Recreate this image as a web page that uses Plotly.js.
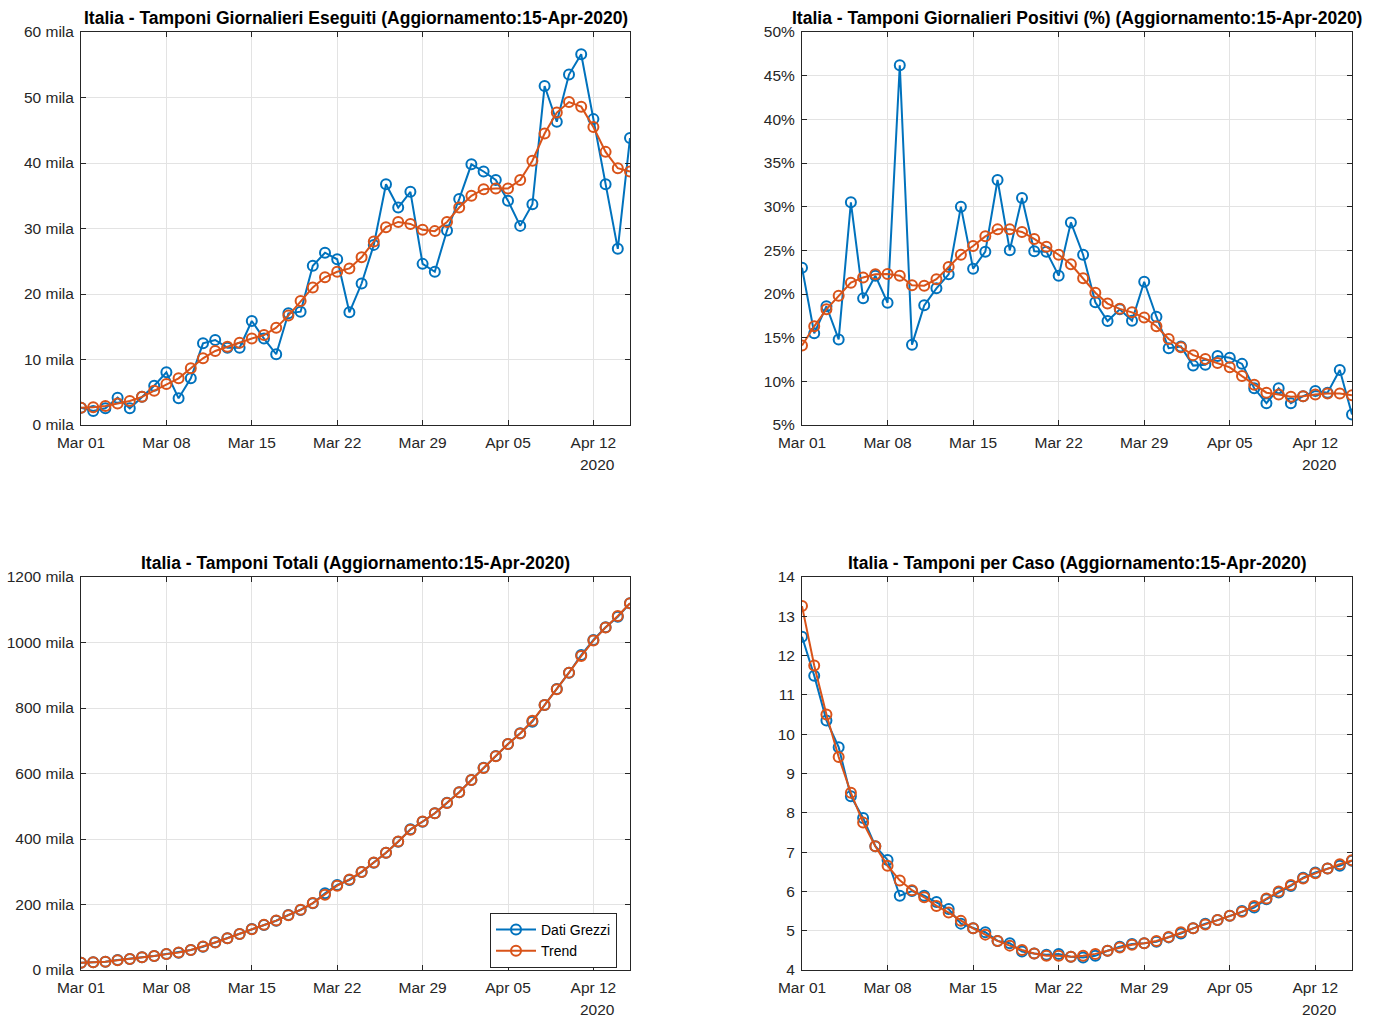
<!DOCTYPE html>
<html>
<head>
<meta charset="utf-8">
<script src="https://cdn.plot.ly/plotly-3.0.1.min.js"></script>
<style>html,body{margin:0;padding:0;background:#fff;}#chart{width:1381px;height:1019px;}</style>
</head>
<body>
<div id="chart"></div>
<script>
// ---------- DATA ----------
const dates = ['2020-03-01','2020-03-02','2020-03-03','2020-03-04','2020-03-05','2020-03-06','2020-03-07','2020-03-08','2020-03-09','2020-03-10',
  '2020-03-11','2020-03-12','2020-03-13','2020-03-14','2020-03-15','2020-03-16','2020-03-17','2020-03-18','2020-03-19','2020-03-20',
  '2020-03-21','2020-03-22','2020-03-23','2020-03-24','2020-03-25','2020-03-26','2020-03-27','2020-03-28','2020-03-29','2020-03-30',
  '2020-03-31','2020-04-01','2020-04-02','2020-04-03','2020-04-04','2020-04-05','2020-04-06','2020-04-07','2020-04-08','2020-04-09',
  '2020-04-10','2020-04-11','2020-04-12','2020-04-13','2020-04-14','2020-04-15'];

// Tamponi giornalieri eseguiti (mila)
const dailyRaw = [2.64, 2.14, 2.55, 4.17, 2.55, 4.32, 6.0, 8.04, 4.07, 7.13, 12.47, 12.98, 11.8, 11.8, 15.88, 13.2, 10.8, 17.05, 17.3, 24.3,
  26.3, 25.3, 17.2, 21.6, 27.5, 36.75, 33.2, 35.6, 24.6, 23.4, 29.7, 34.5, 39.8, 38.7, 37.4, 34.25, 30.4, 33.7, 51.75, 46.3,
  53.5, 56.6, 46.7, 36.75, 26.9, 43.8];
const dailyTrend = [2.64, 2.7, 2.9, 3.3, 3.66, 4.3, 5.24, 6.26, 7.13, 8.65, 10.18, 11.3, 11.96, 12.57, 13.2, 13.74, 14.86, 16.7, 18.93, 21.0,
  22.55, 23.4, 23.9, 25.6, 28.0, 30.2, 31.0, 30.7, 29.8, 29.6, 31.0, 33.2, 35.0, 36.0, 36.1, 36.1, 37.4, 40.35, 44.5, 47.7,
  49.3, 48.6, 45.5, 41.7, 39.2, 38.7];

// Tamponi giornalieri positivi (%)
const posRaw = [23.0, 15.5, 18.6, 14.8, 30.5, 19.5, 22.1, 19.0, 46.2, 14.2, 18.7, 20.65, 22.25, 30.0, 22.9, 24.85, 33.05, 25.0, 31.0, 24.9,
  24.85, 22.1, 28.2, 24.5, 19.05, 16.9, 18.25, 16.95, 21.4, 17.4, 13.8, 14.0, 11.8, 11.9, 12.9, 12.7, 12.0, 9.2, 7.5, 9.2,
  7.5, 8.3, 8.9, 8.7, 11.3, 6.2];
const posTrend = [14.1, 16.3, 18.25, 19.8, 21.3, 21.9, 22.25, 22.3, 22.1, 21.0, 20.95, 21.7, 23.1, 24.5, 25.5, 26.6, 27.4, 27.4, 27.1, 26.3,
  25.4, 24.5, 23.4, 21.8, 20.15, 18.9, 18.3, 17.9, 17.3, 16.3, 14.85, 13.9, 13.0, 12.56, 12.1, 11.6, 10.6, 9.6, 8.7, 8.5,
  8.24, 8.3, 8.5, 8.6, 8.6, 8.4];

// Tamponi totali (mila)
const totRaw = [22.3, 23.5, 25.3, 30.5, 33.6, 38.8, 42.7, 48.9, 52.8, 61.1, 71.1, 84.6, 96.8, 109.9, 125.2, 137.4, 150.5, 167.9, 183.2, 203.7,
  234.2, 259.5, 274.8, 299.0, 327.6, 358.2, 391.8, 429.6, 452.8, 478.5, 510.8, 542.6, 580.2, 617.7, 653.4, 690.1, 722.7, 758.2, 809.2, 858.0,
  907.8, 961.8, 1007.6, 1046.4, 1078.8, 1119.7];
const totTrend = [22.3, 23.5, 25.5, 30.0, 33.8, 38.8, 42.9, 48.5, 53.5, 61.0, 71.5, 84.0, 96.8, 110.0, 124.5, 137.8, 150.8, 167.5, 184.0, 204.5,
  230.0, 257.5, 276.5, 299.5, 328.0, 358.0, 392.5, 428.5, 453.5, 478.5, 510.0, 543.0, 580.0, 616.5, 653.0, 690.0, 722.0, 761.0, 809.0, 857.0,
  908.0, 958.5, 1006.0, 1046.0, 1081.0, 1119.7];

// Tamponi per caso
const perCasoRaw = [12.48, 11.49, 10.35, 9.67, 8.42, 7.87, 7.15, 6.8, 5.89, 6.01, 5.89, 5.73, 5.55, 5.18, 5.06, 4.96, 4.74, 4.68, 4.47, 4.42,
  4.39, 4.41, 4.34, 4.32, 4.36, 4.49, 4.59, 4.66, 4.68, 4.72, 4.83, 4.93, 5.06, 5.18, 5.27, 5.38, 5.5, 5.59, 5.8, 5.97,
  6.14, 6.35, 6.48, 6.58, 6.65, 6.78];
const perCasoTrend = [13.26, 11.75, 10.5, 9.42, 8.51, 7.75, 7.15, 6.65, 6.28, 6.03, 5.85, 5.63, 5.46, 5.25, 5.06, 4.9, 4.74, 4.62, 4.51, 4.42,
  4.36, 4.36, 4.34, 4.36, 4.41, 4.49, 4.57, 4.64, 4.68, 4.74, 4.84, 4.96, 5.06, 5.16, 5.27, 5.38, 5.48, 5.63, 5.82, 6.0,
  6.16, 6.33, 6.46, 6.58, 6.69, 6.79];

// Tick labels
const xTickVals = ['2020-03-01','2020-03-08','2020-03-15','2020-03-22','2020-03-29','2020-04-05','2020-04-12'];
const xTickText = ['Mar 01','Mar 08','Mar 15','Mar 22','Mar 29','Apr 05','Apr 12'];
const dailyTickVals = [0, 10, 20, 30, 40, 50, 60];
const dailyTickText = ['0 mila','10 mila','20 mila','30 mila','40 mila','50 mila','60 mila'];
const posTickVals = [5, 10, 15, 20, 25, 30, 35, 40, 45, 50];
const posTickText = ['5%','10%','15%','20%','25%','30%','35%','40%','45%','50%'];
const totTickVals = [0, 200, 400, 600, 800, 1000, 1200];
const totTickText = ['0 mila','200 mila','400 mila','600 mila','800 mila','1000 mila','1200 mila'];
const perCasoTickVals = [4, 5, 6, 7, 8, 9, 10, 11, 12, 13, 14];

const titles = [
  'Italia - Tamponi Giornalieri Eseguiti (Aggiornamento:15-Apr-2020)',
  'Italia - Tamponi Giornalieri Positivi (%) (Aggiornamento:15-Apr-2020)',
  'Italia - Tamponi Totali (Aggiornamento:15-Apr-2020)',
  'Italia - Tamponi per Caso (Aggiornamento:15-Apr-2020)'
];
const seriesNames = ['Dati Grezzi', 'Trend'];

// ---------- STYLE ----------
const W = 1381, H = 1019;
const BLUE = '#0072BD', ORANGE = '#D95319', AX = '#262626', GRID = '#e3e3e3';
const FONT = 'Liberation Sans, Arial, Helvetica, sans-serif';
const TICKSIZE = 15.5, TITLESIZE = 17.5;
const px = v => v / W;
const py = v => 1 - v / H;

const boxes = [
  {x0: 81, x1: 630, y0: 32, y1: 425},
  {x0: 802, x1: 1352, y0: 32, y1: 425},
  {x0: 81, x1: 630, y0: 577, y1: 970},
  {x0: 802, x1: 1352, y0: 577, y1: 970}
];

function mkTrace(y, name, color, idx, showleg) {
  return {
    x: dates, y: y, name: name, type: 'scatter', mode: 'lines+markers',
    xaxis: idx === 0 ? 'x' : 'x' + (idx + 1),
    yaxis: idx === 0 ? 'y' : 'y' + (idx + 1),
    line: {color: color, width: 2},
    marker: {symbol: 'circle-open', size: 10, color: color, line: {width: 2, color: color}},
    showlegend: showleg
  };
}

const data = [
  mkTrace(dailyRaw, seriesNames[0], BLUE, 0, false),
  mkTrace(dailyTrend, seriesNames[1], ORANGE, 0, false),
  mkTrace(posRaw, seriesNames[0], BLUE, 1, false),
  mkTrace(posTrend, seriesNames[1], ORANGE, 1, false),
  mkTrace(totRaw, seriesNames[0], BLUE, 2, true),
  mkTrace(totTrend, seriesNames[1], ORANGE, 2, true),
  mkTrace(perCasoRaw, seriesNames[0], BLUE, 3, false),
  mkTrace(perCasoTrend, seriesNames[1], ORANGE, 3, false)
];

function xAxis(b, anchor) {
  return {
    domain: [px(b.x0), px(b.x1)], anchor: anchor, type: 'date',
    range: [dates[0], dates[dates.length - 1]],
    tickvals: xTickVals, ticktext: xTickText,
    showline: true, linecolor: AX, linewidth: 1, mirror: 'ticks',
    ticks: 'inside', ticklen: 5, tickcolor: AX, tickwidth: 1,
    showgrid: true, gridcolor: GRID, gridwidth: 1, zeroline: false,
    tickfont: {family: FONT, size: TICKSIZE, color: AX}, ticklabelstandoff: 3
  };
}
function yAxis(b, anchor, range, tv, tt) {
  const a = {
    domain: [py(b.y1), py(b.y0)], anchor: anchor, range: range,
    tickvals: tv,
    showline: true, linecolor: AX, linewidth: 1, mirror: 'ticks',
    ticks: 'inside', ticklen: 5, tickcolor: AX, tickwidth: 1,
    showgrid: true, gridcolor: GRID, gridwidth: 1, zeroline: false,
    tickfont: {family: FONT, size: TICKSIZE, color: AX}, ticklabelstandoff: 3
  };
  if (tt) a.ticktext = tt;
  return a;
}

const annotations = [];
boxes.forEach((b, i) => {
  annotations.push({
    text: '<b>' + titles[i] + '</b>', xref: 'paper', yref: 'paper',
    x: px((b.x0 + b.x1) / 2), y: py(b.y0 - 14), xanchor: 'center', yanchor: 'middle',
    showarrow: false, font: {family: FONT, size: TITLESIZE, color: '#000'}
  });
  annotations.push({
    text: '2020', xref: 'paper', yref: 'paper',
    x: px(b.x1 - 13), y: py(b.y1 + 39), xanchor: 'right', yanchor: 'middle',
    showarrow: false, font: {family: FONT, size: TICKSIZE, color: AX}
  });
});

const layout = {
  width: W, height: H,
  margin: {l: 0, r: 0, t: 0, b: 0},
  paper_bgcolor: '#fff', plot_bgcolor: '#fff',
  font: {family: FONT, size: 14, color: AX},
  xaxis: xAxis(boxes[0], 'y'),
  yaxis: yAxis(boxes[0], 'x', [0, 60], dailyTickVals, dailyTickText),
  xaxis2: xAxis(boxes[1], 'y2'),
  yaxis2: yAxis(boxes[1], 'x2', [5, 50], posTickVals, posTickText),
  xaxis3: xAxis(boxes[2], 'y3'),
  yaxis3: yAxis(boxes[2], 'x3', [0, 1200], totTickVals, totTickText),
  xaxis4: xAxis(boxes[3], 'y4'),
  yaxis4: yAxis(boxes[3], 'x4', [4, 14], perCasoTickVals, null),
  showlegend: true,
  legend: {
    x: px(617), y: py(913), xanchor: 'right', yanchor: 'top',
    bgcolor: '#fff', bordercolor: AX, borderwidth: 1,
    font: {family: FONT, size: 14, color: '#000'},
    tracegroupgap: 0, itemwidth: 40
  },
  annotations: annotations
};

Plotly.newPlot('chart', data, layout, {staticPlot: true, displayModeBar: false});
</script>
</body>
</html>
